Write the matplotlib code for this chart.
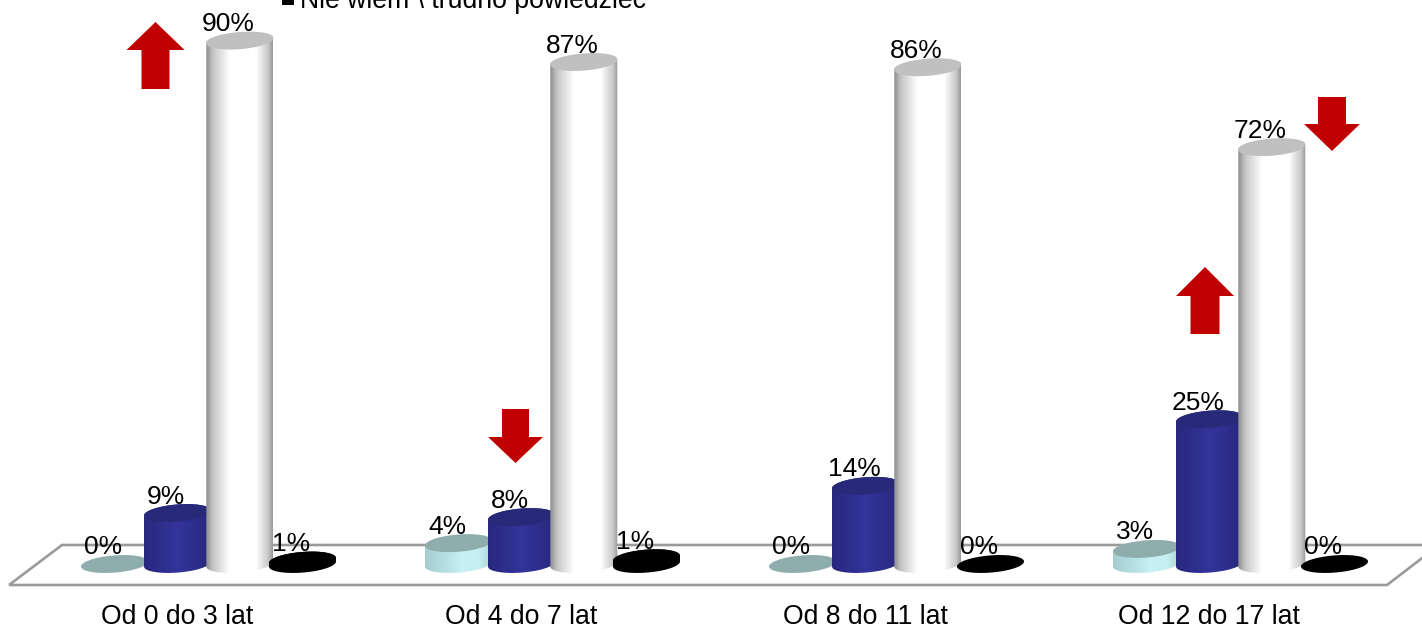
import numpy as np
import matplotlib
matplotlib.use("Agg")
import matplotlib.pyplot as plt
from matplotlib.patches import Polygon, PathPatch
from matplotlib.path import Path
from matplotlib.colors import LinearSegmentedColormap

plt.rcParams['font.family'] = ['Liberation Sans', 'DejaVu Sans']

categories = ["Od 0 do 3 lat", "Od 4 do 7 lat", "Od 8 do 11 lat", "Od 12 do 17 lat"]
tak = [0.0, 3.6, 0.0, 2.6]
nie = [8.8, 8.1, 13.5, 25.0]
white_vals = [90.4, 86.7, 85.8, 72.0]
nie_wiem = [0.6, 1.0, 0.0, 0.0]
legend_label = "Nie wiem \\ trudno powiedzieć"

W, H = 1422, 627
X0, UX = 177.0, 344.0      # px of group 0, px per group
Y0, UY = 564.0, 5.79       # px of value 0, px per percent
FLOOR = 585.0

def dx(p): return (p - X0) / UX
def dy(p): return (Y0 - p) / UY

fig = plt.figure(figsize=(W / 100, H / 100), dpi=100, facecolor='white')
ax = fig.add_axes([0, (H - FLOOR) / H, 1, FLOOR / H])
ax.patch.set_visible(False)
for s in ax.spines.values():
    s.set_visible(False)
ax.set_xlim(dx(0), dx(W))
ax.set_ylim(dy(FLOOR), dy(0))
ax.set_yticks([])
ax.set_xticks(range(len(categories)))
ax.set_xticklabels(categories, fontsize=19.2, color='black')
ax.tick_params(axis='x', length=0, pad=13.5)

# floor
floor_px = [(9, 585), (1387, 585), (1430, 552), (1430, 545), (62, 545)]
ax.add_patch(Polygon([(dx(a), dy(b)) for a, b in floor_px], closed=True, fill=False,
                     edgecolor='#9a9a9a', lw=1.9, clip_on=False, zorder=1))

A, B, K = 33.5, 8.6, 0.075
T = np.linspace(0, 2 * np.pi, 121)

def ell(cx, cy, t):
    """cx in data, cy in data, returns data coordinates of a tilted ellipse"""
    x = cx + A * np.cos(t) / UX
    y = cy + (B * np.sin(t) + K * A * np.cos(t)) / UY
    return x, y

def cylinder(cx, h, stops, top, z):
    if h > 0:
        xb, yb = ell(cx, 0, np.linspace(np.pi, 2 * np.pi, 50))
        xt, yt = ell(cx, h, np.linspace(0, np.pi, 50))
        verts = np.vstack([np.c_[xb, yb], np.c_[xt, yt], [[xb[0], yb[0]]]])
        codes = [Path.MOVETO] + [Path.LINETO] * (len(verts) - 2) + [Path.CLOSEPOLY]
        patch = PathPatch(Path(verts, codes), fc='none', ec='none', zorder=z)
        ax.add_patch(patch)
        cmap = LinearSegmentedColormap.from_list('c', stops)
        im = ax.imshow(np.linspace(0, 1, 256)[None, :], cmap=cmap, aspect='auto', interpolation='bilinear',
                       extent=[cx - A / UX, cx + A / UX, -B * 2 / UY, h + B * 2 / UY], zorder=z, origin='lower')
        im.set_clip_path(patch)
    xe, ye = ell(cx, h, T)
    ax.fill(xe, ye, color=top, lw=0, zorder=z + 0.1)

series = [
    (tak, dx(114.5), [(0, '#a4ccce'), (0.55, '#c6f0f2'), (0.8, '#c6f0f2'), (1, '#a8d4d6')], '#8fadad', 3),
    (nie, dx(177.5), [(0, '#28287c'), (0.5, '#34349c'), (1, '#28287c')], '#29297a', 4),
    (white_vals, dx(239.8), [(0, '#8c8c8c'), (0.1, '#c4c4c4'), (0.35, '#ffffff'), (0.75, '#ffffff'),
                             (0.93, '#c8c8c8'), (1, '#989898')], '#c0c0c0', 5),
    (nie_wiem, dx(302.5), [(0, '#000000'), (1, '#000000')], '#000000', 6),
]
for vals, off, stops, top, z in series:
    for g, v in enumerate(vals):
        cylinder(g + off, v, stops, top, z)
        ax.text(g + off - 11.5 / UX, v + 9.5 / UY, f"{v:.0f}%", ha='center', va='baseline',
                fontsize=19, color='black', zorder=10, clip_on=False)

ax.set_xlim(dx(0), dx(W))
ax.set_ylim(dy(FLOOR), dy(0))

# arrows
def arrow(cx, tip, shoulder, end, hw, sw):
    pts = [(cx, tip), (cx + hw, shoulder), (cx + sw, shoulder), (cx + sw, end),
           (cx - sw, end), (cx - sw, shoulder), (cx - hw, shoulder)]
    ax.add_patch(Polygon([(dx(a), dy(b)) for a, b in pts], closed=True, fc='#C00000', ec='none', zorder=12))

arrow(155.5, 22, 50, 89, 29, 14)
arrow(515.5, 463, 437, 409, 27.5, 13.5)
arrow(1205, 267, 296, 334, 29, 14.5)
arrow(1332, 151, 124, 97, 28, 14)

# legend (cropped by the top of the figure)
ax.add_patch(Polygon([(dx(a), dy(b)) for a, b in [(282, -1), (294, -1), (294, 5), (282, 5)]],
                     closed=True, fc='black', ec='none', zorder=12, clip_on=False))
ax.text(dx(300), dy(8), legend_label, fontsize=19.2, ha='left', va='baseline', color='black', zorder=12, clip_on=False)

fig.savefig("out.png", dpi=100, facecolor='white')
